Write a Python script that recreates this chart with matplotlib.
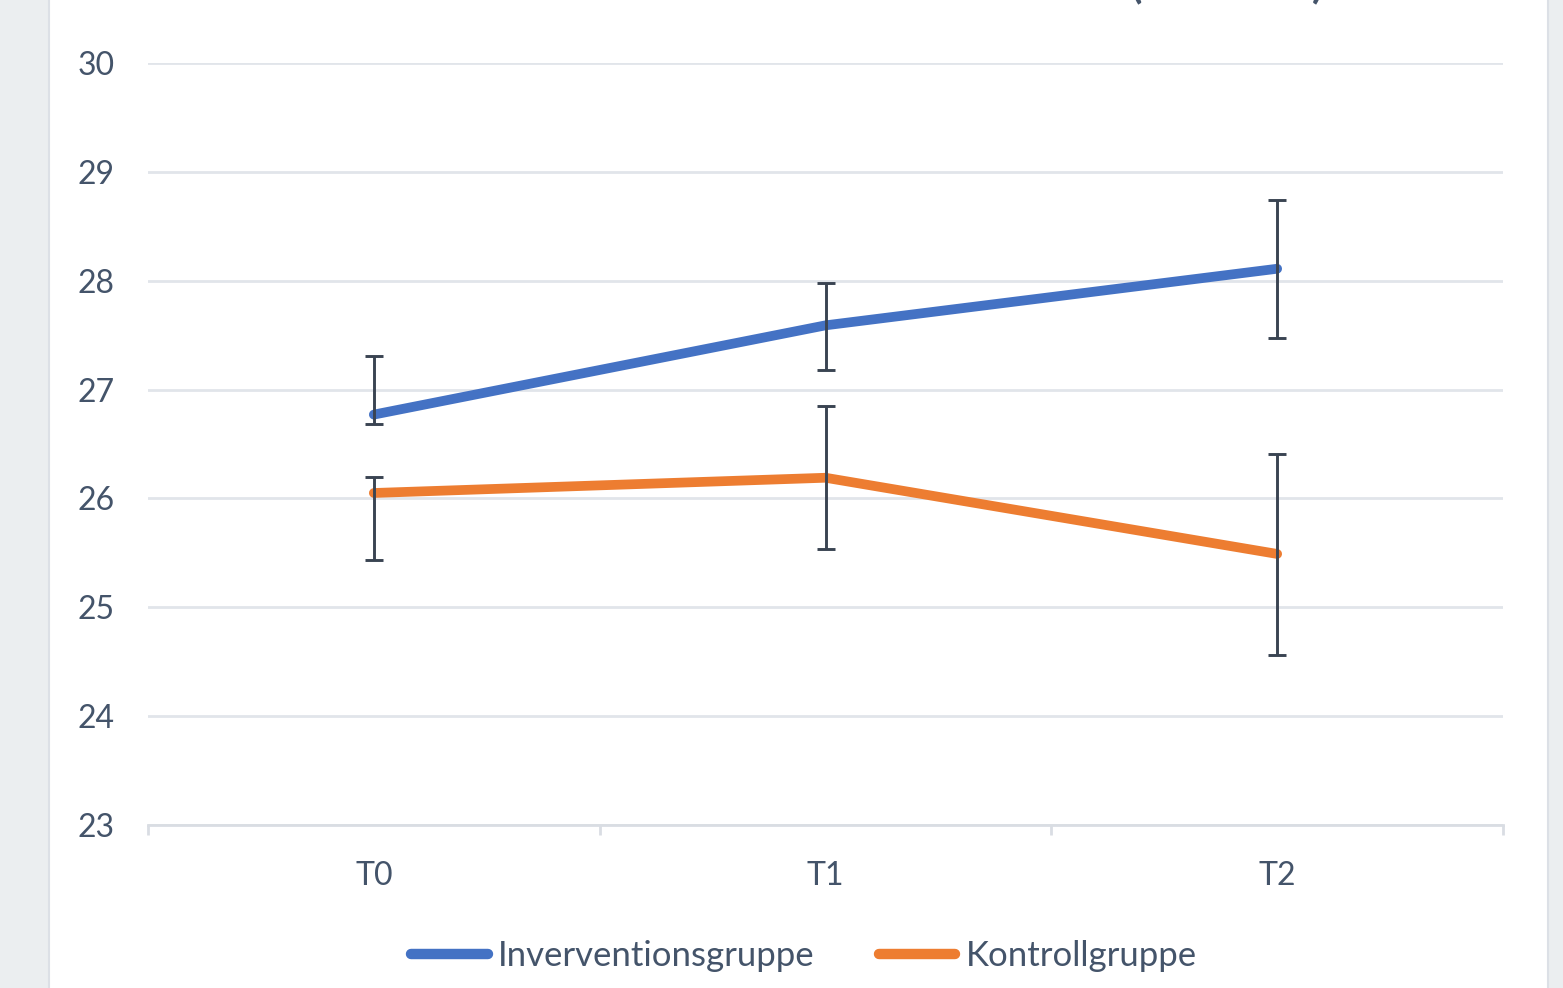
import matplotlib
matplotlib.use("Agg")
import matplotlib.pyplot as plt
from matplotlib.patches import Rectangle

plt.rcParams['font.family'] = ['Lato', 'DejaVu Sans']

categories = ["T0", "T1", "T2"]
interv_vals = [26.77, 27.59, 28.11]
interv_err_low = [0.085, 0.41, 0.64]
interv_err_high = [0.54, 0.39, 0.63]
kontr_vals = [26.05, 26.19, 25.49]
kontr_err_low = [0.62, 0.65, 0.93]
kontr_err_high = [0.15, 0.66, 0.92]
labels = ["Inverventionsgruppe", "Kontrollgruppe"]
yticks = [23, 24, 25, 26, 27, 28, 29, 30]

W, H = 1563, 988
fig = plt.figure(figsize=(W / 100, H / 100), dpi=100)
fig.patch.set_facecolor('#EBEEF0')
fig.patches.append(Rectangle((49 / W, -0.01), (1548 - 49) / W, 1.02, transform=fig.transFigure,
                             facecolor='white', edgecolor='#DCE0E6', linewidth=1.5, zorder=-5))

text_col = '#44546A'
ax = fig.add_axes([148 / W, 1 - 825 / H, (1503 - 148) / W, (825 - 63) / H])
ax.set_zorder(2)
ax.patch.set_alpha(0)
x = list(range(len(categories)))

err_col = '#3A4452'
for vals, lo, hi, col, lab in [(interv_vals, interv_err_low, interv_err_high, '#4472C4', labels[0]),
                               (kontr_vals, kontr_err_low, kontr_err_high, '#ED7D31', labels[1])]:
    ax.plot(x, vals, color=col, lw=7, solid_capstyle='round', solid_joinstyle='round',
            label=lab, zorder=3)
    ax.errorbar(x, vals, yerr=[lo, hi], fmt='none', ecolor=err_col, elinewidth=2.1,
                capsize=6.5, capthick=2.1, zorder=4)

ax.set_xlim(-0.5, 2.5)
ax.set_ylim(23, 30)
ax.set_yticks(yticks)
ax.set_yticklabels([str(v) for v in yticks])
ax.set_xticks(x)
ax.set_xticklabels(categories)
ax.set_xticks([-0.5, 0.5, 1.5, 2.5], minor=True)
ax.grid(axis='y', color='#E1E5EA', lw=2, zorder=0)
for s in ['top', 'right', 'left']:
    ax.spines[s].set_visible(False)
ax.spines['bottom'].set_color('#D9DDE3')
ax.spines['bottom'].set_linewidth(2)
ax.tick_params(axis='y', length=0, pad=24, labelsize=23, labelcolor=text_col)
ax.tick_params(axis='x', which='major', length=0, pad=26, labelsize=23, labelcolor=text_col)
ax.tick_params(axis='x', which='minor', length=7.5, width=2, color='#D9DDE3', direction='out')

leg = fig.legend(loc='center', bbox_to_anchor=(804 / W, 1 - 956 / H), ncol=2, frameon=False,
                 fontsize=25, handlelength=2.2, handletextpad=0.3, columnspacing=1.85,
                 labelcolor=text_col)
for h in leg.get_lines():
    h.set_linewidth(7.5)
    h.set_solid_capstyle('round')

# partially visible title (cut off at top, as in the reference)
fig.text(1136 / W, 1 + 3 / H, "(", fontsize=30, fontweight='bold', color=text_col,
         ha='center', va='baseline')
fig.text(1318 / W, 1 + 3 / H, ")", fontsize=30, fontweight='bold', color=text_col,
         ha='center', va='baseline')

fig.savefig("out.png", dpi=100, facecolor=fig.get_facecolor())
